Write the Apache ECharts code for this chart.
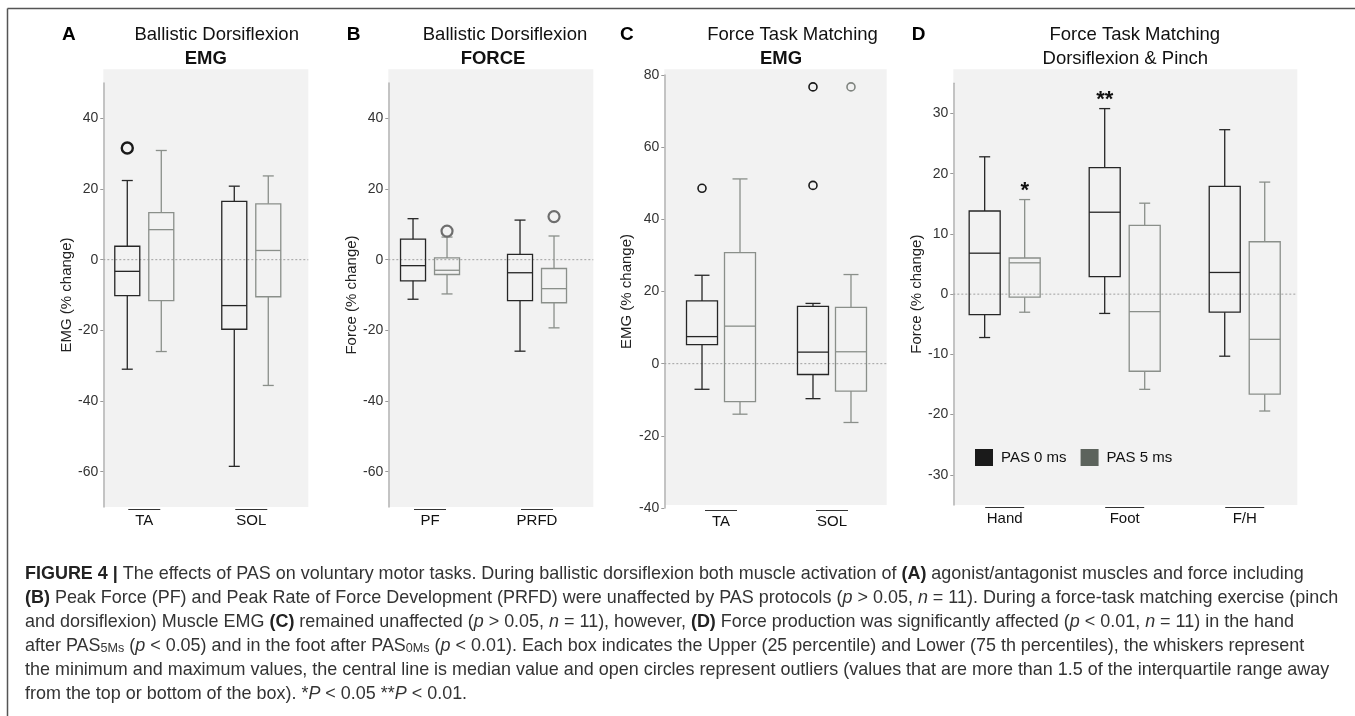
<!DOCTYPE html>
<html>
<head>
<meta charset="utf-8">
<script src="https://cdn.jsdelivr.net/npm/echarts@6/dist/echarts.min.js"></script>
<style>html,body{margin:0;padding:0;background:#fff;}#chart{width:1355px;height:716px;}</style>
</head>
<body>
<div id="chart"></div>
<script>
// ---------------- DATA ----------------
// each box: [min, q1, median, q3, max]
const catsA = ['TA', 'SOL'];
const A_pas0 = [[-31.0, -10.2, -3.3, 3.8, 22.4], [-58.5, -19.7, -13.0, 16.5, 20.8]];
const A_pas5 = [[-26.0, -11.6, 8.5, 13.3, 30.9], [-35.6, -10.5, 2.6, 15.8, 23.7]];
const A_out0 = [[0, 31.6]];
const A_out5 = [];
const A_ticks = [-60, -40, -20, 0, 20, 40];

const catsB = ['PF', 'PRFD'];
const B_pas0 = [[-11.2, -6.0, -1.7, 5.8, 11.6], [-25.9, -11.6, -3.7, 1.5, 11.2]];
const B_pas5 = [[-9.7, -4.2, -3.0, 0.5, 6.4], [-19.3, -12.2, -8.2, -2.5, 6.7]];
const B_out0 = [];
const B_out5 = [[0, 8.1], [1, 12.2]];
const B_ticks = [-60, -40, -20, 0, 20, 40];

const catsC = ['TA', 'SOL'];
const C_pas0 = [[-7.1, 5.3, 7.5, 17.4, 24.5], [-9.7, -3.0, 3.2, 15.9, 16.7]];
const C_pas5 = [[-14.0, -10.5, 10.4, 30.8, 51.2], [-16.3, -7.6, 3.3, 15.6, 24.7]];
const C_out0 = [[0, 48.6], [1, 76.7], [1, 49.4]];
const C_out5 = [[1, 76.7]];
const C_ticks = [-40, -20, 0, 20, 40, 60, 80];

const catsD = ['Hand', 'Foot', 'F/H'];
const D_pas0 = [[-7.2, -3.4, 6.8, 13.8, 22.8], [-3.2, 2.9, 13.6, 21.0, 30.8], [-10.3, -3.0, 3.6, 17.9, 27.3]];
const D_pas5 = [[-3.0, -0.5, 5.2, 6.0, 15.7], [-15.8, -12.8, -2.9, 11.4, 15.1], [-19.4, -16.6, -7.5, 8.7, 18.6]];
const D_out0 = [];
const D_out5 = [];
const D_sig0 = ['', '**', ''];
const D_sig5 = ['*', '', ''];
const D_ticks = [-30, -20, -10, 0, 10, 20, 30];

const seriesNames = ['PAS 0 ms', 'PAS 5 ms'];

const titles = [
  { letter: 'A', line1: 'Ballistic Dorsiflexion', line2: 'EMG', bold2: true },
  { letter: 'B', line1: 'Ballistic Dorsiflexion', line2: 'FORCE', bold2: true },
  { letter: 'C', line1: 'Force Task Matching', line2: 'EMG', bold2: true },
  { letter: 'D', line1: 'Force Task Matching', line2: 'Dorsiflexion & Pinch', bold2: false }
];

const caption = [
  '{b|FIGURE 4 |} The effects of PAS on voluntary motor tasks. During ballistic dorsiflexion both muscle activation of {b|(A)} agonist/antagonist muscles and force including',
  '{b|(B)} Peak Force (PF) and Peak Rate of Force Development (PRFD) were unaffected by PAS protocols ({i|p} > 0.05, {i|n} = 11). During a force-task matching exercise (pinch',
  'and dorsiflexion) Muscle EMG {b|(C)} remained unaffected ({i|p} > 0.05, {i|n} = 11), however, {b|(D)} Force production was significantly affected ({i|p} < 0.01, {i|n} = 11) in the hand',
  'after PAS{sub|5Ms} ({i|p} < 0.05) and in the foot after PAS{sub|0Ms} ({i|p} < 0.01). Each box indicates the Upper (25 percentile) and Lower (75 th percentiles), the whiskers represent',
  'the minimum and maximum values, the central line is median value and open circles represent outliers (values that are more than 1.5 of the interquartile range away',
  'from the top or bottom of the box). *{i|P} < 0.05 **{i|P} < 0.01.'
];

// ---------------- LAYOUT / STYLE ----------------
const FONT = '"Liberation Sans", Arial, Helvetica, sans-serif';
const CAP_FONT = '"Liberation Sans", Arial, Helvetica, sans-serif';
const COL0 = '#262626', COL5 = '#8a8f8a';
const LEG0 = '#1a1a1a', LEG5 = '#5c635c';

const panels = [
  { cats: catsA, s0: A_pas0, s5: A_pas5, o0: A_out0, o5: A_out5, ticks: A_ticks, yMin: -70, yMax: 50, yName: 'EMG (% change)',
    L: { axisX: 103.3, top: 83, bottom: 507, right: 308.3, bgBottom: 507, xMin: -0.383, xMax: 1.533, off: 17, boxW: 25, capW: 11, olR: 5.5, olW: 2.4, ol5: '#6e6e6e', overW: 32, nameGap: 28,
         tx: 216.7, t2x: 205.8, lx: 62 } },
  { cats: catsB, s0: B_pas0, s5: B_pas5, o0: B_out0, o5: B_out5, ticks: B_ticks, yMin: -70, yMax: 50, yName: 'Force (% change)',
    L: { axisX: 388.3, top: 83, bottom: 507, right: 593.3, bgBottom: 507, xMin: -0.39, xMax: 1.526, off: 17, boxW: 25, capW: 11, olR: 5.5, olW: 2.2, ol5: '#6e6e6e', overW: 32, nameGap: 26,
         tx: 505, t2x: 493, lx: 346.7 } },
  { cats: catsC, s0: C_pas0, s5: C_pas5, o0: C_out0, o5: C_out5, ticks: C_ticks, yMin: -40, yMax: 80, yName: 'EMG (% change)',
    L: { axisX: 664.3, top: 75, bottom: 508, right: 886.7, bgBottom: 505, xMin: -0.511, xMax: 1.493, off: 19, boxW: 31, capW: 15, olR: 4, olW: 1.6, ol5: '#808580', overW: 32, nameGap: 30,
         tx: 792.5, t2x: 781, lx: 620 } },
  { cats: catsD, s0: D_pas0, s5: D_pas5, o0: D_out0, o5: D_out5, ticks: D_ticks, yMin: -35, yMax: 35, yName: 'Force (% change)',
    sig0: D_sig0, sig5: D_sig5,
    L: { axisX: 953.3, top: 83.3, bottom: 505, right: 1297.3, bgBottom: 505, xMin: -0.428, xMax: 2.438, off: 20, boxW: 31, capW: 11, olR: 4, olW: 1.6, ol5: '#808580', overW: 39, nameGap: 27,
         tx: 1134.8, t2x: 1125.3, lx: 911.7 } }
];

function boxRender(L, offset, stroke) {
  return function (params, api) {
    const i = api.value(0);
    const xc = api.coord([i, api.value(3)])[0] + offset;
    const py = k => api.coord([i, api.value(k)])[1];
    const yMin = py(1), yQ1 = py(2), yMed = py(3), yQ3 = py(4), yMax = py(5);
    const hw = L.boxW / 2, cw = L.capW / 2;
    const st = { stroke: stroke, lineWidth: 1.3, fill: 'none' };
    return {
      type: 'group',
      children: [
        { type: 'line', shape: { x1: xc, y1: yMax, x2: xc, y2: yQ3 }, style: st },
        { type: 'line', shape: { x1: xc, y1: yQ1, x2: xc, y2: yMin }, style: st },
        { type: 'line', shape: { x1: xc - cw, y1: yMax, x2: xc + cw, y2: yMax }, style: st },
        { type: 'line', shape: { x1: xc - cw, y1: yMin, x2: xc + cw, y2: yMin }, style: st },
        { type: 'rect', shape: { x: xc - hw, y: yQ3, width: 2 * hw, height: yQ1 - yQ3 }, style: st },
        { type: 'line', shape: { x1: xc - hw, y1: yMed, x2: xc + hw, y2: yMed }, style: st }
      ]
    };
  };
}

function outRender(L, offset, stroke) {
  return function (params, api) {
    const p = api.coord([api.value(0), api.value(1)]);
    return { type: 'circle', shape: { cx: p[0] + offset, cy: p[1], r: L.olR }, style: { stroke: stroke, lineWidth: L.olW, fill: 'none' } };
  };
}

function sigRender(boxes, sigs, offset) {
  return function (params, api) {
    const i = params.dataIndex;
    const s = sigs[i];
    if (!s) return null;
    const p = api.coord([i, boxes[i][4]]);
    return { type: 'text', x: p[0] + offset, y: p[1] + 2,
      style: { text: s, fontSize: 22, fontWeight: 'bold', fontFamily: FONT, fill: '#111', align: 'center', verticalAlign: 'bottom', textAlign: 'center', textVerticalAlign: 'bottom' } };
  };
}

const grids = [], xAxes = [], yAxes = [], series = [], graphics = [];

panels.forEach((P, gi) => {
  const L = P.L;
  grids.push({ left: L.axisX, top: L.top, width: L.right - L.axisX, height: L.bottom - L.top, outerBoundsMode: 'none', containLabel: false });
  xAxes.push({
    type: 'value', gridIndex: gi, min: L.xMin, max: L.xMax,
    axisLine: { show: false, onZero: false }, axisTick: { show: false }, splitLine: { show: false },
    axisLabel: { customValues: P.cats.map((c, i) => i), formatter: v => P.cats[Math.round(v)], fontSize: 15, color: '#111', fontFamily: FONT, margin: 6 }
  });
  yAxes.push({
    type: 'value', gridIndex: gi, min: P.yMin, max: P.yMax,
    name: P.yName, nameLocation: 'middle', nameGap: L.nameGap, nameRotate: 90,
    nameTextStyle: { fontSize: 15, color: '#222', fontFamily: FONT },
    axisLine: { show: true, onZero: false, lineStyle: { color: '#b3b3b3', width: 1.5 } },
    axisTick: { show: true, length: 3, customValues: P.ticks, lineStyle: { color: '#999' } },
    axisLabel: { customValues: P.ticks, fontSize: 14, color: '#333', fontFamily: FONT, margin: 5 },
    splitLine: { show: false }
  });
  // zero reference line
  series.push({
    type: 'custom', xAxisIndex: gi, yAxisIndex: gi, silent: true, z: 1,
    data: [[0, 0]],
    renderItem: (params, api) => {
      const a = api.coord([L.xMin, 0]), b = api.coord([L.xMax, 0]);
      return { type: 'line', shape: { x1: a[0], y1: a[1], x2: b[0], y2: b[1] }, style: { stroke: '#a0a0a0', lineWidth: 1, lineDash: [2, 2] } };
    }
  });
  // category overlines
  series.push({
    type: 'custom', xAxisIndex: gi, yAxisIndex: gi, silent: true, clip: false,
    data: P.cats.map((c, i) => [i, P.yMin]),
    renderItem: (params, api) => {
      const p = api.coord([api.value(0), api.value(1)]);
      return { type: 'line', shape: { x1: p[0] - L.overW / 2, y1: p[1] + 2.5, x2: p[0] + L.overW / 2, y2: p[1] + 2.5 }, style: { stroke: '#333', lineWidth: 1 } };
    }
  });
  // boxes
  series.push({
    type: 'custom', name: seriesNames[0], xAxisIndex: gi, yAxisIndex: gi, silent: true, z: 3,
    itemStyle: { color: LEG0 },
    data: P.s0.map((s, i) => [i].concat(s)), encode: { x: 0, y: [1, 2, 3, 4, 5] },
    renderItem: boxRender(L, -L.off, COL0)
  });
  series.push({
    type: 'custom', name: seriesNames[1], xAxisIndex: gi, yAxisIndex: gi, silent: true, z: 3,
    itemStyle: { color: LEG5 },
    data: P.s5.map((s, i) => [i].concat(s)), encode: { x: 0, y: [1, 2, 3, 4, 5] },
    renderItem: boxRender(L, L.off, COL5)
  });
  // outliers
  series.push({ type: 'custom', xAxisIndex: gi, yAxisIndex: gi, silent: true, z: 4, data: P.o0, renderItem: outRender(L, -L.off, '#1a1a1a') });
  series.push({ type: 'custom', xAxisIndex: gi, yAxisIndex: gi, silent: true, z: 4, data: P.o5, renderItem: outRender(L, L.off, L.ol5) });
  if (P.sig0) {
    series.push({ type: 'custom', xAxisIndex: gi, yAxisIndex: gi, silent: true, z: 4, clip: false, data: P.cats.map((c, i) => [i, 0]), renderItem: sigRender(P.s0, P.sig0, -L.off) });
    series.push({ type: 'custom', xAxisIndex: gi, yAxisIndex: gi, silent: true, z: 4, clip: false, data: P.cats.map((c, i) => [i, 0]), renderItem: sigRender(P.s5, P.sig5, L.off) });
  }
  // background
  graphics.push({ type: 'rect', z: -10, silent: true,
    shape: { x: L.axisX, y: 69.3, width: L.right - L.axisX, height: L.bgBottom - 69.3 },
    style: { fill: '#f2f2f2' } });
  // titles
  const T = titles[gi];
  graphics.push({ type: 'text', x: L.lx, y: 35, style: { text: T.letter, fontSize: 19, fontWeight: 'bold', fontFamily: FONT, fill: '#000', align: 'left', verticalAlign: 'middle', textAlign: 'left', textVerticalAlign: 'middle' } });
  graphics.push({ type: 'text', x: L.tx, y: 35, style: { text: T.line1, fontSize: 18.5, fontFamily: FONT, fill: '#111', align: 'center', verticalAlign: 'middle', textAlign: 'center', textVerticalAlign: 'middle' } });
  graphics.push({ type: 'text', x: L.t2x, y: 58.5, style: { text: T.line2, fontSize: 18.5, fontWeight: T.bold2 ? 'bold' : 'normal', fontFamily: FONT, fill: '#111', align: 'center', verticalAlign: 'middle', textAlign: 'center', textVerticalAlign: 'middle' } });
});

// figure frame (top & left rules)
graphics.push({ type: 'line', silent: true, shape: { x1: 7.5, y1: 8.5, x2: 1355, y2: 8.5 }, style: { stroke: '#555', lineWidth: 1.5 } });
graphics.push({ type: 'line', silent: true, shape: { x1: 7.5, y1: 8.5, x2: 7.5, y2: 716 }, style: { stroke: '#555', lineWidth: 1.5 } });

// caption: size chosen so that the 2nd line spans the same width as in the figure
const CAP_LEFT = 25, CAP_TARGET_W = 1313;
const measureCtx = document.createElement('canvas').getContext('2d');
function plain(s) { return s.replace(/\{[a-z]+\|([^}]*)\}/g, '$1'); }
measureCtx.font = '100px ' + CAP_FONT;
const CAP_FS = Math.min(18, Math.max(14, 100 * CAP_TARGET_W / measureCtx.measureText(plain(caption[1])).width));
const capRich = {
  b: { fontSize: CAP_FS, fontWeight: 'bold', fontFamily: CAP_FONT, fill: '#222', color: '#222' },
  i: { fontSize: CAP_FS, fontStyle: 'italic', fontFamily: CAP_FONT, fill: '#333', color: '#333' },
  sub: { fontSize: CAP_FS * 0.7, fontFamily: CAP_FONT, fill: '#333', color: '#333', verticalAlign: 'bottom' }
};
caption.forEach((line, k) => {
  graphics.push({ type: 'text', x: CAP_LEFT, y: 574 + k * 24.1, silent: true,
    style: { text: line, rich: capRich, fontSize: CAP_FS, fontFamily: CAP_FONT, fill: '#333', align: 'left', verticalAlign: 'middle', textAlign: 'left', textVerticalAlign: 'middle' } });
});

const option = {
  backgroundColor: '#fff',
  animation: false,
  textStyle: { fontFamily: FONT },
  grid: grids,
  xAxis: xAxes,
  yAxis: yAxes,
  legend: {
    data: seriesNames, left: 975, top: 449, itemWidth: 18, itemHeight: 17, itemGap: 14, icon: 'rect',
    selectedMode: false, padding: 0,
    textStyle: { fontSize: 15, color: '#111', fontFamily: FONT, padding: [0, 0, 0, 3] }
  },
  graphic: graphics,
  series: series
};

const chart = echarts.init(document.getElementById('chart'), null, { renderer: 'canvas' });
chart.setOption(option);
</script>
</body>
</html>
